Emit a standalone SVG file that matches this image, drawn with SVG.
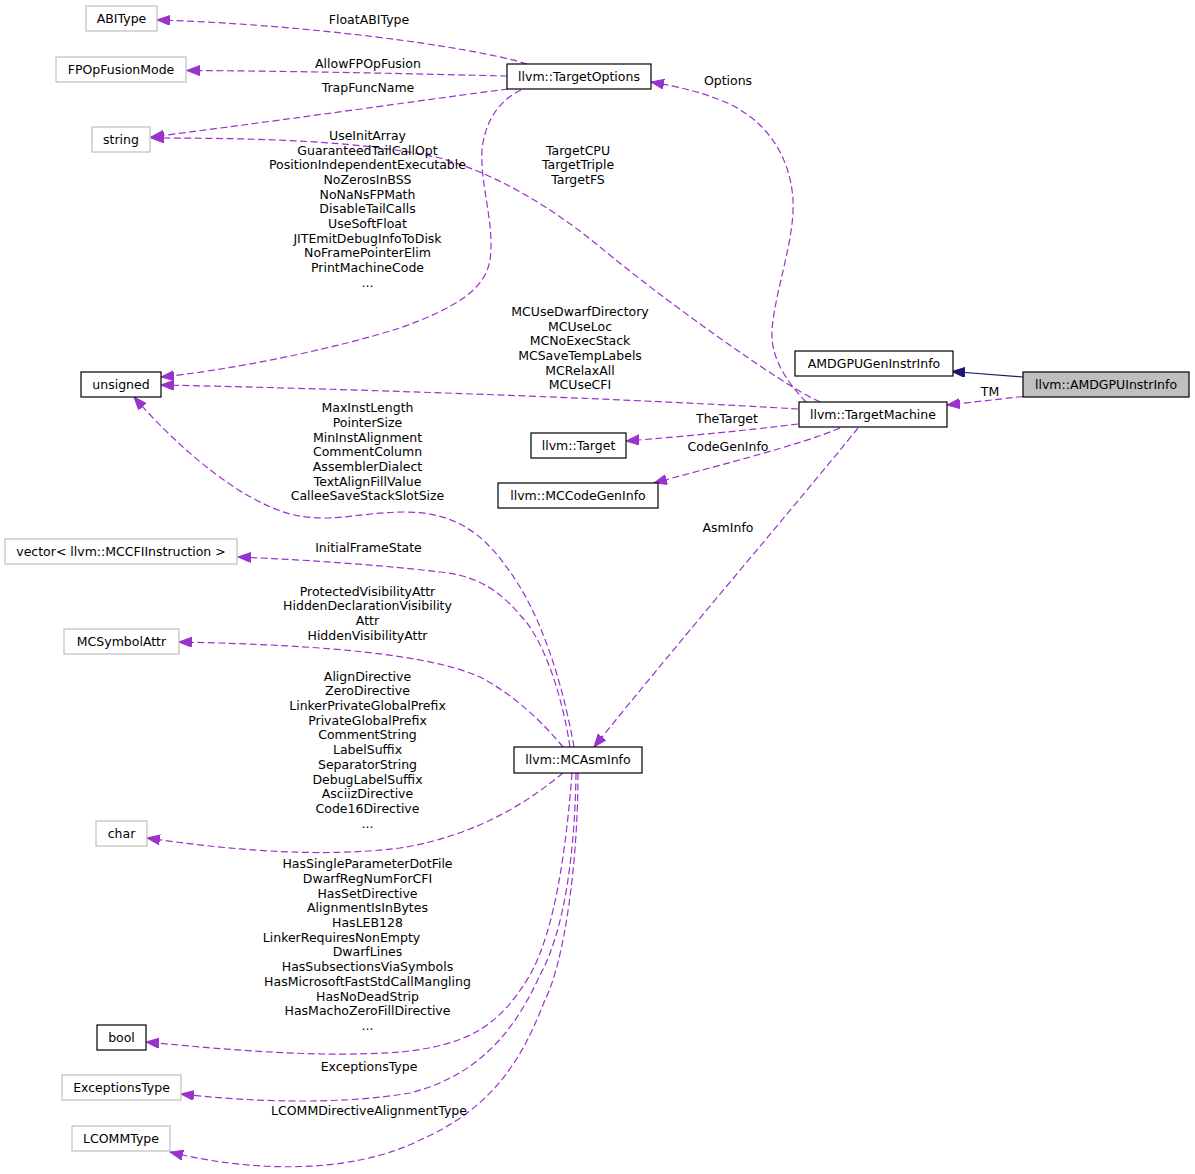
<svg xmlns="http://www.w3.org/2000/svg" width="1195" height="1174" viewBox="0 0 1195 1174">
<defs>
<style>
text{font-family:"DejaVu Sans","Liberation Sans",sans-serif;font-size:12.5px;fill:#000;text-anchor:middle}
.nd rect{fill:#fff;stroke-width:1.2}
.doc rect{stroke:#000}
.und rect{stroke:#bfbfbf}
.main rect{fill:#bfbfbf;stroke:#000}
.e{fill:none;stroke:#9a32cd;stroke-width:1.2;stroke-dasharray:7,3.5}
.inh{fill:none;stroke:#191970;stroke-width:1.2}
</style>
<marker id="ap" markerUnits="userSpaceOnUse" markerWidth="14" markerHeight="11" refX="13" refY="5" orient="auto"><path d="M0,0 L13,5 L0,10 z" fill="#9a32cd" stroke="#9a32cd" stroke-width="1"/></marker>
<marker id="ab" markerUnits="userSpaceOnUse" markerWidth="14" markerHeight="11" refX="13" refY="5" orient="auto"><path d="M0,0 L13,5 L0,10 z" fill="#191970" stroke="#191970" stroke-width="1"/></marker>
</defs>
<rect width="1195" height="1174" fill="#fff"/>

<g id="edges">
<path class="e" marker-end="url(#ap)" d="M527,64 C470,46 300,24 157,20"/>
<path class="e" marker-end="url(#ap)" d="M507,76 C420,74 300,71 187,70.5"/>
<path class="e" marker-end="url(#ap)" d="M508,89 C430,99 300,118 151,137"/>
<path class="e" marker-end="url(#ap)" d="M521,90 C500,100 485,120 482,150 C480,185 495,225 490,260 C485,290 455,308 400,328 C330,350 230,370 161,377"/>
<path class="e" marker-end="url(#ap)" d="M820,402 C780,384 660,297 600,247 C555,210 500,175 440,158 C360,140 250,138 151,138"/>
<path class="e" marker-end="url(#ap)" d="M806,402 C790,385 770,360 772,330 C775,290 795,240 793,200 C790,150 760,115 720,100 C700,92 680,87 651,82"/>
<path class="e" marker-end="url(#ap)" d="M798,409 C650,400 400,390 161,385"/>
<path class="e" marker-end="url(#ap)" d="M798,424 C750,430 690,436 626,441"/>
<path class="e" marker-end="url(#ap)" d="M840,428 C800,445 720,465 654,483"/>
<path class="e" marker-end="url(#ap)" d="M858,428 C800,500 680,640 594,747"/>
<path class="inh" marker-end="url(#ab)" d="M1023,377 L952,371.5"/>
<path class="e" marker-end="url(#ap)" d="M1023,396.5 L947,405"/>
<path class="e" marker-end="url(#ap)" d="M574,747 C562,680 540,610 505,565 C480,530 450,512 405,512 C360,512 330,524 290,514 C240,500 180,450 134,397"/>
<path class="e" marker-end="url(#ap)" d="M570,747 C563,700 545,640 520,615 C495,585 470,575 440,572 C380,565 310,560 238,557"/>
<path class="e" marker-end="url(#ap)" d="M563,747 C545,725 515,695 480,677 C430,655 330,645 179,642"/>
<path class="e" marker-end="url(#ap)" d="M563,773 C530,800 480,835 400,848 C320,858 230,850 147,838"/>
<path class="e" marker-end="url(#ap)" d="M572,773 C566,850 555,930 530,975 C500,1025 470,1045 400,1052 C320,1058 230,1050 146,1042"/>
<path class="e" marker-end="url(#ap)" d="M576,773 C575,850 565,930 540,975 C515,1030 480,1075 410,1093 C340,1105 250,1102 181,1094"/>
<path class="e" marker-end="url(#ap)" d="M578,773 C578,860 565,960 545,1000 C525,1050 500,1105 420,1140 C350,1175 250,1172 170,1152"/>
</g>

<g id="edge-labels">
<text x="369" y="23.8">FloatABIType</text>
<text x="368" y="67.8">AllowFPOpFusion</text>
<text x="368" y="91.8">TrapFuncName</text>
<text x="367.5" y="140">UseInitArray</text>
<text x="367.5" y="154.7">GuaranteedTailCallOpt</text>
<text x="367.5" y="169.3">PositionIndependentExecutable</text>
<text x="367.5" y="184">NoZerosInBSS</text>
<text x="367.5" y="198.7">NoNaNsFPMath</text>
<text x="367.5" y="213.3">DisableTailCalls</text>
<text x="367.5" y="228">UseSoftFloat</text>
<text x="367.5" y="242.7">JITEmitDebugInfoToDisk</text>
<text x="367.5" y="257.3">NoFramePointerElim</text>
<text x="367.5" y="272">PrintMachineCode</text>
<text x="367.5" y="286.7">...</text>
<text x="578" y="154.7">TargetCPU</text>
<text x="578" y="169.3">TargetTriple</text>
<text x="578" y="184">TargetFS</text>
<text x="728" y="84.5">Options</text>
<text x="580" y="316">MCUseDwarfDirectory</text>
<text x="580" y="330.7">MCUseLoc</text>
<text x="580" y="345.3">MCNoExecStack</text>
<text x="580" y="360">MCSaveTempLabels</text>
<text x="580" y="374.7">MCRelaxAll</text>
<text x="580" y="389.3">MCUseCFI</text>
<text x="990" y="395.5">TM</text>
<text x="727" y="423">TheTarget</text>
<text x="728" y="450.5">CodeGenInfo</text>
<text x="728" y="532">AsmInfo</text>
<text x="367.5" y="412.2">MaxInstLength</text>
<text x="367.5" y="426.9">PointerSize</text>
<text x="367.5" y="441.6">MinInstAlignment</text>
<text x="367.5" y="456.3">CommentColumn</text>
<text x="367.5" y="471">AssemblerDialect</text>
<text x="367.5" y="485.7">TextAlignFillValue</text>
<text x="367.5" y="500.4">CalleeSaveStackSlotSize</text>
<text x="368.5" y="552.2">InitialFrameState</text>
<text x="367.5" y="595.6">ProtectedVisibilityAttr</text>
<text x="367.5" y="610.3">HiddenDeclarationVisibility</text>
<text x="367.5" y="625">Attr</text>
<text x="367.5" y="639.7">HiddenVisibilityAttr</text>
<text x="367.5" y="680.6">AlignDirective</text>
<text x="367.5" y="695.3">ZeroDirective</text>
<text x="367.5" y="710">LinkerPrivateGlobalPrefix</text>
<text x="367.5" y="724.7">PrivateGlobalPrefix</text>
<text x="367.5" y="739.4">CommentString</text>
<text x="367.5" y="754.1">LabelSuffix</text>
<text x="367.5" y="768.8">SeparatorString</text>
<text x="367.5" y="783.5">DebugLabelSuffix</text>
<text x="367.5" y="798.2">AsciizDirective</text>
<text x="367.5" y="812.9">Code16Directive</text>
<text x="367.5" y="827.6">...</text>
<text x="367.5" y="868.2">HasSingleParameterDotFile</text>
<text x="367.5" y="882.9">DwarfRegNumForCFI</text>
<text x="367.5" y="897.6">HasSetDirective</text>
<text x="367.5" y="912.3">AlignmentIsInBytes</text>
<text x="367.5" y="927">HasLEB128</text>
<text x="341.5" y="941.7">LinkerRequiresNonEmpty</text>
<text x="367.5" y="956.4">DwarfLines</text>
<text x="367.5" y="971.1">HasSubsectionsViaSymbols</text>
<text x="367.5" y="985.8">HasMicrosoftFastStdCallMangling</text>
<text x="367.5" y="1000.5">HasNoDeadStrip</text>
<text x="367.5" y="1015.2">HasMachoZeroFillDirective</text>
<text x="367.5" y="1029.9">...</text>
<text x="369" y="1070.6">ExceptionsType</text>
<text x="369" y="1114.6">LCOMMDirectiveAlignmentType</text>
</g>

<g id="n_ABIType" class="nd und"><rect x="86" y="6" width="71" height="25"/><text x="121.5" y="22.8">ABIType</text></g>
<g id="n_FPOpFusionMode" class="nd und"><rect x="56" y="57" width="130" height="25"/><text x="121" y="73.8">FPOpFusionMode</text></g>
<g id="n_string" class="nd und"><rect x="92" y="127" width="58" height="25"/><text x="121" y="143.8">string</text></g>
<g id="n_TargetOptions" class="nd doc"><rect x="507" y="64" width="144" height="25"/><text x="579" y="80.8">llvm::TargetOptions</text></g>
<g id="n_unsigned" class="nd doc"><rect x="81" y="372" width="80" height="25"/><text x="121" y="388.8">unsigned</text></g>
<g id="n_AMDGPUGenInstrInfo" class="nd doc"><rect x="795" y="351" width="158" height="25"/><text x="874" y="367.8">AMDGPUGenInstrInfo</text></g>
<g id="n_AMDGPUInstrInfo" class="nd main"><rect x="1023" y="372" width="166" height="25"/><text x="1106" y="388.8">llvm::AMDGPUInstrInfo</text></g>
<g id="n_TargetMachine" class="nd doc"><rect x="799" y="402" width="148" height="25"/><text x="873" y="418.8">llvm::TargetMachine</text></g>
<g id="n_Target" class="nd doc"><rect x="531" y="433" width="95" height="25"/><text x="578.5" y="449.8">llvm::Target</text></g>
<g id="n_MCCodeGenInfo" class="nd doc"><rect x="498" y="483" width="160" height="25"/><text x="578" y="499.8">llvm::MCCodeGenInfo</text></g>
<g id="n_vector" class="nd und"><rect x="5" y="539" width="232" height="25"/><text x="121" y="555.8">vector&lt; llvm::MCCFIInstruction &gt;</text></g>
<g id="n_MCSymbolAttr" class="nd und"><rect x="64" y="629" width="115" height="25"/><text x="121.5" y="645.8">MCSymbolAttr</text></g>
<g id="n_MCAsmInfo" class="nd doc"><rect x="514" y="747" width="128" height="26"/><text x="578" y="764.3">llvm::MCAsmInfo</text></g>
<g id="n_char" class="nd und"><rect x="96" y="821" width="51" height="25"/><text x="121.5" y="837.8">char</text></g>
<g id="n_bool" class="nd doc"><rect x="97" y="1025" width="49" height="25"/><text x="121.5" y="1041.8">bool</text></g>
<g id="n_ExceptionsType" class="nd und"><rect x="62" y="1075" width="119" height="25"/><text x="121.5" y="1091.8">ExceptionsType</text></g>
<g id="n_LCOMMType" class="nd und"><rect x="72" y="1126" width="98" height="25"/><text x="121" y="1142.8">LCOMMType</text></g>
</svg>
